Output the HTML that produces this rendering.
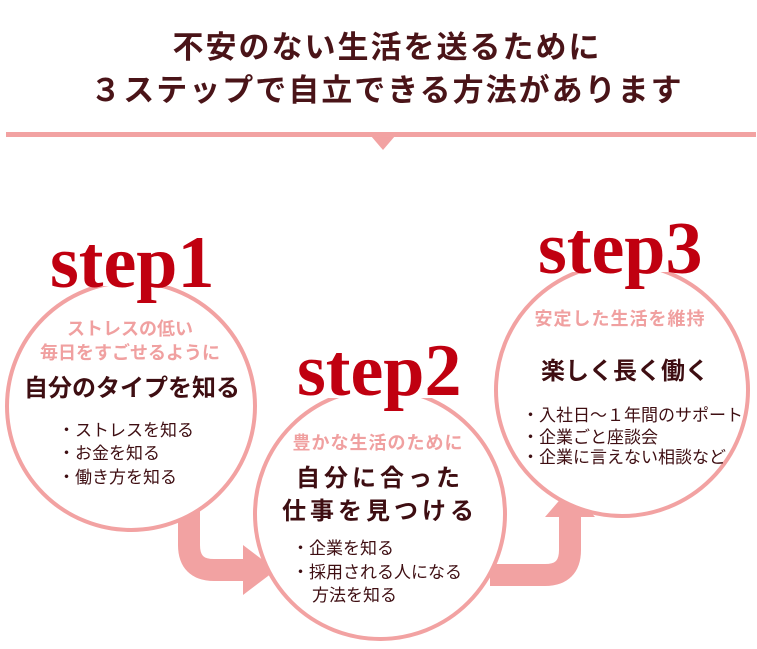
<!DOCTYPE html>
<html><head><meta charset="utf-8"><style>
body{margin:0;background:#fff;}
svg text{font-family:"Liberation Sans","Noto Sans CJK JP",sans-serif;}
.st{font-family:"Liberation Serif",serif;font-weight:bold;fill:#c00010;font-size:74px;}
.sub{fill:#f0a0a0;font-weight:bold;font-size:18px;}
.ttl{fill:#3e0e12;font-weight:bold;font-size:24px;}
.li{fill:#3e0e12;font-size:17px;}
</style></head><body>
<svg width="757" height="644" viewBox="0 0 757 644" xmlns="http://www.w3.org/2000/svg">
<text x="387" y="58" text-anchor="middle" font-size="31" font-weight="bold" fill="#4a1418" letter-spacing="2">不安のない生活を送るために</text>
<text x="387" y="101" text-anchor="middle" font-size="31" font-weight="bold" fill="#4a1418" letter-spacing="2">３ステップで自立できる方法があります</text>
<rect x="6" y="132" width="750" height="5" fill="#f2a2a2"/>
<polygon points="371,136 395,136 383,150" fill="#f2a2a2"/>
<path d="M189,505 L189,545 Q189,570 214,570 L245,570" fill="none" stroke="#f2a2a2" stroke-width="22"/>
<polygon points="243,545 276,570 243,595" fill="#f2a2a2"/>
<path d="M490,575 L545,575 Q570,575 570,550 L570,515" fill="none" stroke="#f2a2a2" stroke-width="22"/>
<polygon points="545,517 570,488 595,517" fill="#f2a2a2"/>
<circle cx="131" cy="406" r="124" fill="#fff" stroke="#f2a2a2" stroke-width="4"/>
<circle cx="380" cy="514" r="125" fill="#fff" stroke="#f2a2a2" stroke-width="4"/>
<circle cx="622" cy="390" r="126" fill="#fff" stroke="#f2a2a2" stroke-width="4"/>
<rect x="48" y="240" width="170" height="46" fill="#fff"/>
<text class="st" x="50" y="287">step1</text>
<rect x="292" y="352" width="180" height="46" fill="#fff"/>
<text class="st" x="297" y="395">step2</text>
<rect x="535" y="228" width="175" height="44" fill="#fff"/>
<text class="st" x="538" y="273">step3</text>
<text class="sub" x="130" y="335" text-anchor="middle">ストレスの低い</text>
<text class="sub" x="130" y="359" text-anchor="middle">毎日をすごせるように</text>
<text class="ttl" x="132" y="396" text-anchor="middle">自分のタイプを知る</text>
<text class="li" x="58" y="436">・ストレスを知る</text>
<text class="li" x="58" y="459">・お金を知る</text>
<text class="li" x="58" y="483">・働き方を知る</text>
<text class="sub" x="378" y="449" text-anchor="middle" font-size="19" letter-spacing="1">豊かな生活のために</text>
<text class="ttl" x="380" y="486" text-anchor="middle" letter-spacing="4">自分に合った</text>
<text class="ttl" x="380" y="519" text-anchor="middle" letter-spacing="4">仕事を見つける</text>
<text class="li" x="292" y="554">・企業を知る</text>
<text class="li" x="292" y="578">・採用される人になる</text>
<text class="li" x="312" y="601">方法を知る</text>
<text class="sub" x="620" y="325" text-anchor="middle" font-size="19" letter-spacing="1">安定した生活を維持</text>
<text class="ttl" x="625" y="379" text-anchor="middle">楽しく長く働く</text>
<text class="li" x="522" y="421" font-size="16">・入社日～１年間のサポート</text>
<text class="li" x="522" y="443" font-size="16">・企業ごと座談会</text>
<text class="li" x="522" y="463" font-size="16">・企業に言えない相談など</text>
</svg>
</body></html>
